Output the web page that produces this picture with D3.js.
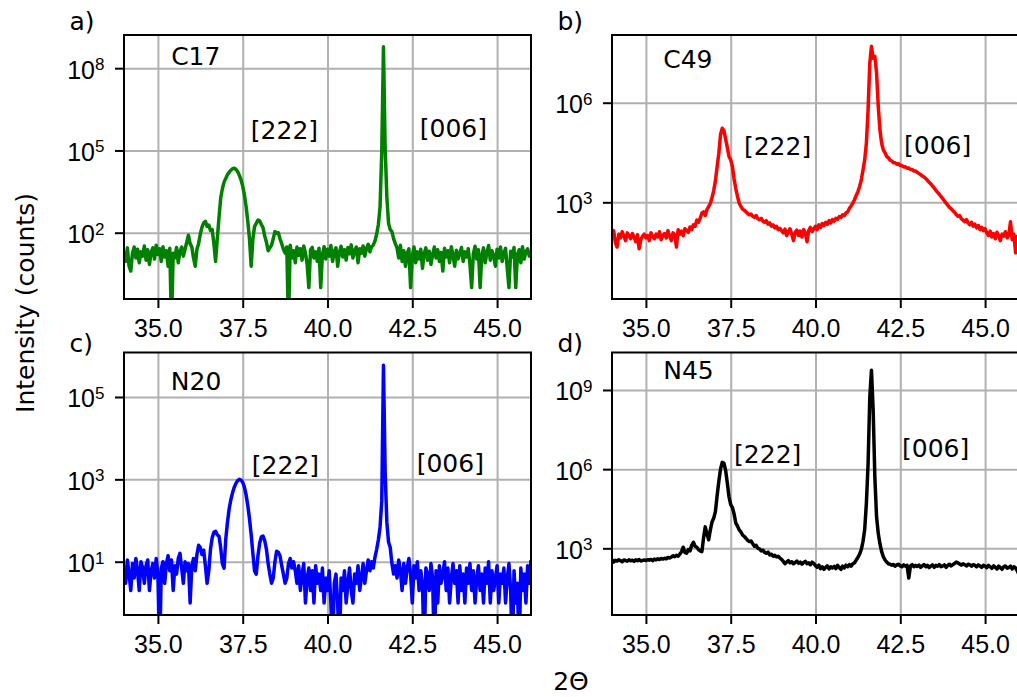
<!DOCTYPE html>
<html lang="en">
<head>
<meta charset="UTF-8">
<title>XRD 2theta scans</title>
<script src="https://d3js.org/d3.v7.min.js"></script>
<style>
  body { margin: 0; background: #fff; }
  svg { display: block; font-family: "DejaVu Sans", sans-serif; }
  .grid line { stroke: #b0b0b0; stroke-width: 2; }
  .grid path { display: none; }
  .axis path { display: none; }
  .axis line { stroke: #000; stroke-width: 2; }
  .axis text { font-size: 25px; fill: #000; }
</style>
</head>
<body>
<script>
// scan grid: 2theta from 34.00 to 46.00 deg in 0.05 deg steps (241 points)
const scanStart = 34;
const scanStep = 0.05;

// measured counts, one row = 1 degree (20 points)
const countsC17 = [
  22, 9, 28, 6, 4, 18, 30, 12, 25, 8, 20, 14, 33, 10, 24, 7, 19, 28, 11, 35,
  16, 26, 9, 31, 13, 22, 6, 27, 0, 18, 12, 29, 8, 21, 30, 14, 25, 45, 81, 40,
  30, 12, 6, 25, 40, 90, 160, 230, 260, 170, 190, 120, 130, 40, 9, 60, 350, 1800, 4000, 7000,
  9500, 13000, 16000, 19000, 21500, 22500, 20500, 17000, 12500, 8500, 5000, 2400, 900, 260, 60, 6, 60, 170, 220, 290,
  270, 200, 150, 75, 45, 22, 28, 35, 60, 110, 95, 100, 60, 40, 25, 18, 30, 0, 35, 12,
  22, 8, 30, 15, 26, 10, 33, 18, 7, 1, 24, 29, 12, 20, 9, 27, 1, 16, 31, 11,
  25, 14, 34, 9, 21, 28, 6, 19, 32, 13, 24, 10, 29, 17, 36, 12, 22, 30, 8, 26,
  18, 33, 14, 27, 38, 20, 31, 35, 50, 90, 200, 900, 90000, 600000000, 120000, 2000, 220, 130, 110, 60,
  40, 28, 12, 35, 9, 22, 6, 18, 26, 1, 14, 30, 8, 20, 11, 25, 5, 17, 28, 10,
  21, 7, 16, 30, 12, 24, 9, 19, 4, 27, 13, 22, 8, 31, 15, 6, 23, 11, 18, 29,
  9, 20, 13, 26, 7, 1, 17, 32, 11, 24, 1, 15, 28, 8, 19, 34, 10, 22, 14, 6,
  25, 12, 30, 9, 18, 27, 5, 1, 21, 13, 29, 1, 16, 24, 8, 31, 11, 20, 26, 14, 22
];

const countsC49 = [
  90, 140, 60, 45, 110, 85, 130, 95, 70, 120, 100, 80, 115, 90, 65, 105, 40, 75, 95, 110,
  85, 100, 70, 120, 95, 80, 110, 90, 130, 75, 100, 115, 85, 140, 95, 70, 120, 105, 45, 150,
  110, 135, 100, 160, 140, 125, 180, 150, 210, 190, 290, 250, 330, 470, 520, 400, 600, 750, 930, 1400,
  2300, 4500, 12000, 30000, 110000, 170000, 145000, 80000, 45000, 24000, 19000, 12000, 5000, 2600, 1500, 950, 750, 620, 580, 520,
  460, 420, 440, 380, 350, 400, 320, 300, 330, 270, 250, 280, 220, 240, 190, 210, 170, 190, 150, 165,
  140, 120, 155, 100, 130, 160, 110, 70, 125, 145, 100, 135, 90, 150, 120, 65, 140, 175, 130, 160,
  190, 150, 210, 175, 230, 200, 250, 215, 280, 240, 300, 270, 330, 310, 370, 350, 420, 400, 480, 520,
  660, 780, 950, 1200, 1600, 2100, 3000, 4700, 9400, 19000, 60000, 600000, 15000000, 50000000, 22000000, 25000000, 8000000, 800000, 150000, 60000,
  38000, 31000, 24000, 22000, 18500, 17500, 15500, 15500, 14000, 14500, 12800, 12800, 11600, 11800, 10600, 10800, 9700, 9800, 8700, 8800,
  8000, 7400, 6800, 6200, 5800, 5200, 4600, 4000, 3600, 3100, 2700, 2300, 2000, 1750, 1500, 1300, 1100, 950, 820, 700,
  640, 560, 500, 430, 380, 400, 320, 290, 260, 300, 240, 210, 250, 190, 220, 170, 200, 150, 175, 140,
  160, 120, 100, 135, 90, 115, 80, 125, 100, 70, 110, 95, 130, 85, 105, 260, 75, 110, 30, 95, 70
];

const countsN20 = [
  8, 3, 11, 5, 2, 9, 4, 12, 6, 2, 10, 7, 3, 8, 11, 2, 6, 9, 4, 12,
  5, 0, 7, 10, 3, 9, 14, 6, 11, 2, 8, 5, 12, 16, 7, 3, 10, 6, 9, 1,
  8, 12, 6, 15, 25, 22, 15, 19, 8, 3, 6, 20, 38, 52, 55, 45, 42, 22, 9, 7,
  35, 90, 190, 320, 470, 640, 800, 930, 1000, 960, 850, 650, 420, 230, 110, 45, 16, 6, 5, 14,
  28, 40, 42, 32, 20, 9, 5, 3, 4, 10, 18, 17, 14, 8, 5, 3, 4, 9, 12, 7,
  10, 6, 3, 8, 2, 5, 9, 1, 4, 7, 2, 6, 1, 8, 3, 5, 2, 7, 1, 4,
  2, 6, 1, 0, 3, 5, 1, 0, 4, 2, 6, 1, 3, 7, 2, 1, 5, 3, 8, 2,
  4, 9, 3, 6, 11, 6, 10, 7, 13, 20, 34, 70, 300, 590000, 1500, 90, 30, 22, 9, 5,
  8, 4, 11, 6, 2, 9, 3, 7, 12, 5, 1, 8, 4, 10, 2, 6, 3, 0, 7, 5,
  2, 9, 4, 0, 6, 1, 8, 3, 5, 10, 2, 7, 1, 4, 9, 3, 6, 1, 8, 2,
  5, 1, 7, 3, 9, 2, 6, 1, 4, 8, 2, 5, 1, 7, 3, 10, 1, 6, 2, 4,
  8, 1, 5, 3, 7, 1, 4, 9, 2, 0, 6, 1, 3, 0, 7, 2, 5, 1, 8, 3, 11
];

const countsN45 = [
  380, 300, 350, 330, 370, 340, 310, 360, 345, 325, 370, 335, 355, 320, 365, 340, 375, 330, 350, 360,
  345, 370, 355, 380, 340, 390, 365, 400, 375, 410, 390, 420, 400, 450, 430, 470, 520, 480, 540, 500,
  600, 750, 1100, 700, 650, 900, 800, 1300, 1700, 1200, 1100, 900, 800, 750, 2500, 6500, 3500, 2100, 5000, 10000,
  14000, 25000, 100000, 350000, 1000000, 1800000, 1700000, 900000, 300000, 90000, 45000, 35000, 20000, 9000, 7000, 5000, 4200, 3200, 2800, 2400,
  2000, 1800, 1900, 1500, 1200, 1300, 1000, 950, 800, 850, 700, 650, 720, 560, 600, 500, 540, 470, 500, 430,
  380, 320, 260, 300, 340, 280, 310, 260, 290, 330, 270, 300, 250, 290, 320, 260, 280, 240, 300, 270,
  220, 190, 230, 170, 200, 160, 190, 215, 165, 200, 180, 205, 170, 225, 190, 160, 210, 180, 230, 200,
  240, 210, 260, 280, 360, 450, 600, 900, 1800, 5000, 50000, 1500000, 500000000, 5600000000, 180000000, 500000, 16000, 3700, 1500, 750,
  480, 360, 300, 260, 250, 230, 245, 210, 235, 250, 215, 200, 235, 210, 225, 75, 215, 240, 200, 225,
  205, 230, 190, 215, 240, 200, 225, 185, 215, 235, 190, 225, 210, 240, 200, 215, 235, 190, 225, 250,
  215, 240, 265, 300, 280, 255, 230, 260, 240, 215, 250, 235, 210, 240, 225, 200, 235, 215, 190, 225,
  210, 185, 225, 200, 175, 215, 190, 165, 210, 185, 160, 200, 215, 175, 190, 210, 165, 200, 180, 140, 100
];

const sampleNames = ["C17", "C49", "N20", "N45"];
const panelTags = ["a)", "b)", "c)", "d)"];
const seriesCounts = [countsC17, countsC49, countsN20, countsN45];
const seriesColors = ["#008000", "#ff0000", "#0000ff", "#000000"];

const xLimits = [34, 46];
const xTicks = [35, 37.5, 40, 42.5, 45];
const yTickExponents = [[2, 5, 8], [3, 6], [1, 3, 5], [3, 6, 9]];
const yLimitsLog = [[-0.417, 9.21], [0.087, 8.04], [-0.294, 6.08], [0.473, 10.42]];

// annotation anchors as [2theta, log10(counts)]
const nameAnchors = [[35.39, 8.11], [35.51, 7.05], [35.38, 5.18], [35.51, 9.40]];
const peak222Anchors = [[37.74, 5.43], [37.89, 4.42], [37.77, 3.13], [37.60, 6.22]];
const peak006Anchors = [[42.72, 5.49], [42.61, 4.47], [42.63, 3.18], [42.55, 6.47]];

const W = 1017, H = 697;
const colLeft = [124, 612];
const colWidth = 407;
const rowBox = [[35, 299], [352.5, 615]];
const tagBaseline = [30, 351.5];

const svg = d3.select("body").append("svg")
    .attr("width", W)
    .attr("height", H);

sampleNames.forEach((name, k) => {
    const left = colLeft[k % 2];
    const [top, bottom] = rowBox[Math.floor(k / 2)];
    const right = left + colWidth;

    const x = d3.scaleLinear().domain(xLimits).range([left, right]);
    const y = d3.scaleLog()
        .domain(yLimitsLog[k].map(e => Math.pow(10, e)))
        .range([bottom, top]);
    const floor = Math.pow(10, yLimitsLog[k][0] - 1);

    const g = svg.append("g");

    g.append("rect")
        .attr("x", left).attr("y", top)
        .attr("width", colWidth).attr("height", bottom - top)
        .attr("fill", "#fff");

    // grid
    g.append("g").attr("class", "grid")
        .attr("transform", `translate(0,${bottom})`)
        .call(d3.axisBottom(x).tickValues(xTicks).tickSize(-(bottom - top)).tickFormat(""));
    g.append("g").attr("class", "grid")
        .attr("transform", `translate(${left},0)`)
        .call(d3.axisLeft(y).tickValues(yTickExponents[k].map(e => Math.pow(10, e)))
            .tickSize(-colWidth).tickFormat(""));

    // data
    const clipId = "clip" + k;
    g.append("clipPath").attr("id", clipId)
        .append("rect")
        .attr("x", left).attr("y", top)
        .attr("width", colWidth).attr("height", bottom - top);

    const line = d3.line()
        .x((d, i) => x(scanStart + i * scanStep))
        .y(d => y(Math.max(d, floor)));

    g.append("path")
        .datum(seriesCounts[k])
        .attr("clip-path", `url(#${clipId})`)
        .attr("fill", "none")
        .attr("stroke", seriesColors[k])
        .attr("stroke-width", 3.5)
        .attr("stroke-linejoin", "round")
        .attr("d", line);

    // spines
    g.append("rect")
        .attr("x", left).attr("y", top)
        .attr("width", colWidth).attr("height", bottom - top)
        .attr("fill", "none")
        .attr("stroke", "#000")
        .attr("stroke-width", 2);

    // axes
    g.append("g").attr("class", "axis")
        .attr("transform", `translate(0,${bottom})`)
        .call(d3.axisBottom(x).tickValues(xTicks).tickSize(9).tickPadding(11)
            .tickFormat(d3.format(".1f")));

    const yAxis = g.append("g").attr("class", "axis")
        .attr("transform", `translate(${left},0)`)
        .call(d3.axisLeft(y).tickValues(yTickExponents[k].map(e => Math.pow(10, e)))
            .tickSize(9).tickPadding(10.5));
    yAxis.selectAll(".tick text")
        .attr("dy", "0.4em")
        .text(null)
        .each(function(d) {
            const t = d3.select(this);
            t.append("tspan").text("10");
            t.append("tspan")
                .attr("font-size", "17px")
                .attr("dy", -8.5)
                .text(Math.round(Math.log10(d)));
        });

    // labels
    const txt = (pos, s) => g.append("text")
        .attr("x", x(pos[0]))
        .attr("y", y(Math.pow(10, pos[1])))
        .attr("font-size", 25)
        .text(s);
    txt(nameAnchors[k], name);
    txt(peak222Anchors[k], "[222]");
    txt(peak006Anchors[k], "[006]");

    g.append("text")
        .attr("x", left - 54.5)
        .attr("y", tagBaseline[Math.floor(k / 2)])
        .attr("font-size", 25)
        .text(panelTags[k]);
});

svg.append("text")
    .attr("transform", "translate(34,303) rotate(-90)")
    .attr("text-anchor", "middle")
    .attr("font-size", 25)
    .text("Intensity (counts)");

svg.append("text")
    .attr("x", 571)
    .attr("y", 690)
    .attr("text-anchor", "middle")
    .attr("font-size", 25)
    .text("2Θ");
</script>
</body>
</html>
